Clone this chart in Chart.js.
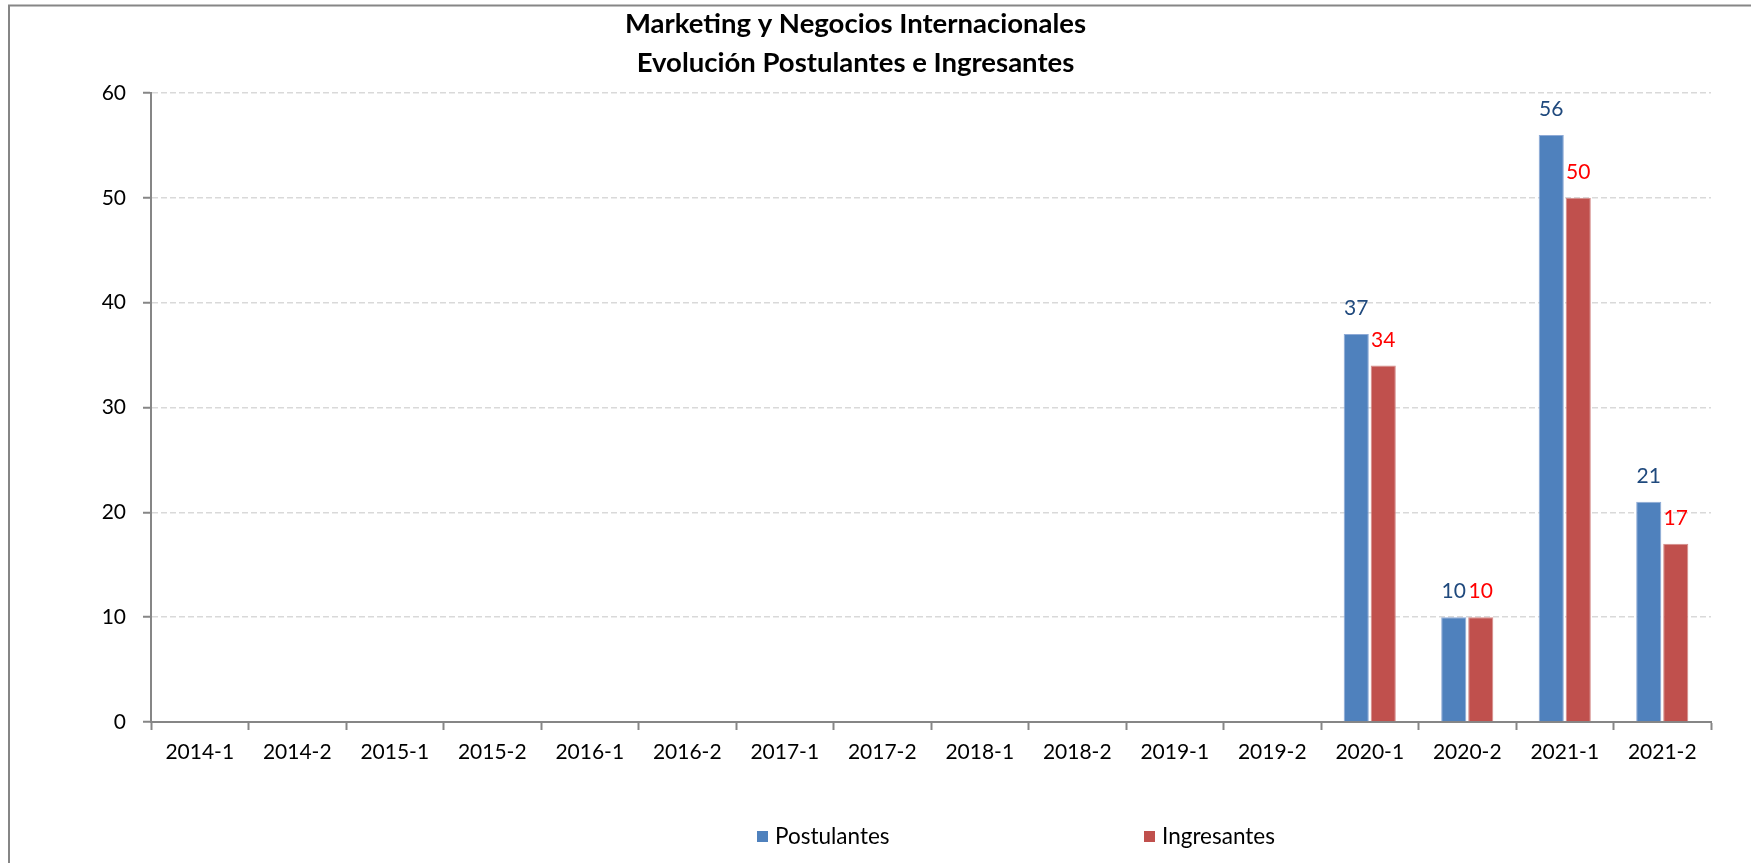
<!DOCTYPE html>
<html>
<head>
<meta charset="utf-8">
<script src="https://cdn.jsdelivr.net/npm/chart.js@4.4.0/dist/chart.umd.min.js"></script>
<style>
html,body{margin:0;padding:0;background:#fff;overflow:hidden}
canvas{display:block}
</style>
</head>
<body>
<canvas id="c" width="1751" height="863"></canvas>
<script>
// ---- data ----
const categories = ['2014-1','2014-2','2015-1','2015-2','2016-1','2016-2','2017-1','2017-2','2018-1','2018-2','2019-1','2019-2','2020-1','2020-2','2021-1','2021-2'];
const postulantes = [null,null,null,null,null,null,null,null,null,null,null,null,37,10,56,21];
const ingresantes = [null,null,null,null,null,null,null,null,null,null,null,null,34,10,50,17];
const yTicks = [0,10,20,30,40,50,60];
const seriesNames = ['Postulantes','Ingresantes'];
const titleLines = ['Marketing y Negocios Internacionales','Evolución Postulantes e Ingresantes'];

// ---- styles ----
const FONT = 'Lato';
const AXIS_GRAY = '#868686';

const frame = {
  id: 'frame',
  beforeDraw(chart) {
    const ctx = chart.ctx;
    ctx.save();
    ctx.strokeStyle = AXIS_GRAY;
    ctx.lineWidth = 2;
    ctx.strokeRect(9, 5.5, 3000, 3000);
    ctx.restore();
  }
};

const valueLabels = {
  id: 'valueLabels',
  afterDatasetsDraw(chart) {
    const ctx = chart.ctx;
    ctx.save();
    ctx.font = '21px ' + FONT;
    ctx.textAlign = 'center';
    ctx.textBaseline = 'alphabetic';
    chart.data.datasets.forEach((ds, i) => {
      const meta = chart.getDatasetMeta(i);
      meta.data.forEach((bar, j) => {
        const v = ds.data[j];
        if (v === null || v === undefined) return;
        ctx.fillStyle = ds.labelColor;
        ctx.fillText(String(v), bar.x, bar.y - 19);
      });
    });
    ctx.restore();
  }
};

const customLegend = {
  id: 'customLegend',
  afterDraw(chart) {
    const ctx = chart.ctx;
    const starts = [757, 1144];
    const y = 837;
    ctx.save();
    ctx.font = '22.5px ' + FONT;
    ctx.textBaseline = 'middle';
    ctx.textAlign = 'left';
    chart.data.datasets.forEach((ds, i) => {
      const x = starts[i];
      ctx.fillStyle = ds.backgroundColor;
      ctx.fillRect(x, y - 6, 11, 11);
      ctx.fillStyle = '#000';
      ctx.fillText(ds.label, x + 18, y);
    });
    ctx.restore();
  }
};

function build() {
  new Chart(document.getElementById('c'), {
    type: 'bar',
    data: {
      labels: categories,
      datasets: [
        { label: seriesNames[0], data: postulantes, backgroundColor: '#4F81BD', borderColor: '#8EAAD6', borderWidth: {left:1,right:1,top:1,bottom:0}, labelColor: '#1F497D', categoryPercentage: 0.554, barPercentage: 0.93 },
        { label: seriesNames[1], data: ingresantes, backgroundColor: '#C0504D', borderColor: '#D48B89', borderWidth: {left:1,right:1,top:1,bottom:0}, labelColor: '#FF0000', categoryPercentage: 0.554, barPercentage: 0.93 }
      ]
    },
    options: {
      responsive: false,
      devicePixelRatio: 1,
      animation: false,
      layout: { padding: { left: 0, right: 40, top: 0, bottom: 0 } },
      plugins: {
        legend: { display: false },
        tooltip: { enabled: false },
        title: {
          display: true,
          text: titleLines,
          color: '#000',
          font: { family: FONT, size: 27.5, weight: 'bold', lineHeight: '39px' },
          padding: { top: 5, bottom: 10 }
        }
      },
      scales: {
        x: {
          offset: true,
          grid: { display: true, drawOnChartArea: false, drawTicks: true, tickLength: 8, tickColor: AXIS_GRAY, tickWidth: 2, offset: true },
          border: { display: true, color: AXIS_GRAY, width: 2 },
          ticks: { color: '#000', font: { family: FONT, size: 21 }, padding: 10, maxRotation: 0, autoSkip: false },
          afterFit(scale) { scale.height = 141; }
        },
        y: {
          min: yTicks[0],
          max: yTicks[yTicks.length - 1],
          grid: { color: '#D9D9D9', lineWidth: 1.5, drawTicks: true, tickLength: 8, tickColor: AXIS_GRAY, tickWidth: 2, tickBorderDash: [] },
          border: { display: true, color: AXIS_GRAY, width: 2, dash: [6, 3] },
          ticks: { stepSize: yTicks[1] - yTicks[0], color: '#000', font: { family: FONT, size: 21 }, padding: 17 },
          afterFit(scale) { scale.width = 151; }
        }
      }
    },
    plugins: [frame, valueLabels, customLegend]
  });
}

if (document.fonts && document.fonts.load) {
  Promise.all([
    document.fonts.load('21px Lato'),
    document.fonts.load('bold 27.5px Lato')
  ]).then(build, build);
} else { build(); }
</script>
</body>
</html>
